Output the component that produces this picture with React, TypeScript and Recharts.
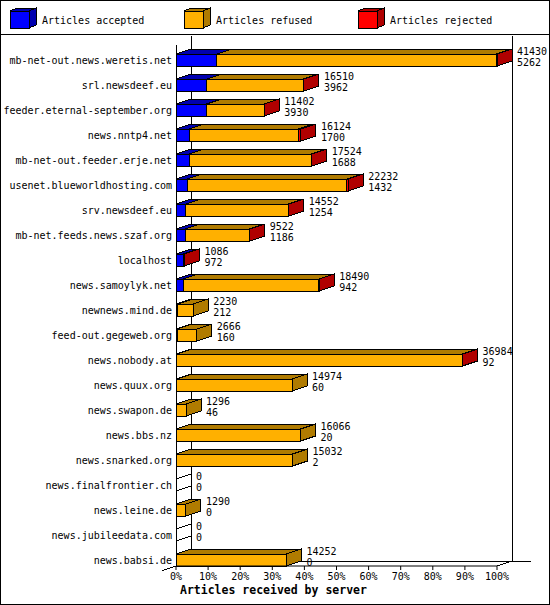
import { Bar, BarChart, CartesianGrid, Legend, XAxis, YAxis } from 'recharts';

const servers = [
  'mb-net-out.news.weretis.net',
  'srl.newsdeef.eu',
  'feeder.eternal-september.org',
  'news.nntp4.net',
  'mb-net-out.feeder.erje.net',
  'usenet.blueworldhosting.com',
  'srv.newsdeef.eu',
  'mb-net.feeds.news.szaf.org',
  'localhost',
  'news.samoylyk.net',
  'newnews.mind.de',
  'feed-out.gegeweb.org',
  'news.nobody.at',
  'news.quux.org',
  'news.swapon.de',
  'news.bbs.nz',
  'news.snarked.org',
  'news.finalfrontier.ch',
  'news.leine.de',
  'news.jubileedata.com',
  'news.babsi.de',
];

const accepted = [5262, 3962, 3930, 1700, 1688, 1432, 1254, 1186, 972, 942, 212, 160, 92, 60, 46, 20, 2, 0, 0, 0, 0];
const refused = [36068, 12508, 7432, 14074, 15806, 20600, 13258, 8306, 0, 17488, 2018, 2506, 36842, 14914, 1250, 16046, 15030, 0, 1290, 0, 14252];
const rejected = [100, 40, 40, 350, 30, 200, 40, 30, 114, 60, 0, 0, 50, 0, 0, 0, 0, 0, 0, 0, 0];

const seriesNames = ['Articles accepted', 'Articles refused', 'Articles rejected'];
const pctTicks = [0, 10, 20, 30, 40, 50, 60, 70, 80, 90, 100];

const totals = servers.map((_, i) => accepted[i] + refused[i] + rejected[i]);
const maxTotal = Math.max(...totals);

// bar length is relative to the busiest server
const data = servers.map((server, i) => ({
  server,
  accepted: (accepted[i] / maxTotal) * 100,
  refused: (refused[i] / maxTotal) * 100,
  rejected: (rejected[i] / maxTotal) * 100,
  total: totals[i],
  acceptedCount: accepted[i],
}));

const FONT = '"DejaVu Sans Mono", "Liberation Mono", monospace';
const DX = 15;
const DY = 5;

type Key = 'accepted' | 'refused' | 'rejected';
const KEYS: Key[] = ['accepted', 'refused', 'rejected'];
const FRONT: Record<Key, string> = { accepted: '#0000ff', refused: '#ffb000', rejected: '#ff0000' };
const SHADE: Record<Key, string> = { accepted: '#0000b0', refused: '#b07b00', rejected: '#b00000' };

const makeShape = (key: Key) => (props: any) => {
  const { x, y, width, height, payload } = props;
  const top = y + height / 2;
  const bottom = top + height;
  const right = x + width;
  const later = KEYS.slice(KEYS.indexOf(key) + 1);
  const isLast = later.every((k) => !payload[k]);
  const txt = { fontFamily: FONT, fontSize: 10, fill: '#000' };

  return (
    <g>
      {key === 'accepted' && (
        <g stroke="#000" shapeRendering="crispEdges">
          <line x1={x} y1={top} x2={x + DX} y2={top - DY} />
          <line x1={x} y1={bottom} x2={x + DX} y2={bottom - DY} />
        </g>
      )}
      {width > 0 && (
        <g stroke="#000" strokeWidth={1} shapeRendering="crispEdges">
          <polygon
            points={`${x},${top} ${x + DX},${top - DY} ${right + DX},${top - DY} ${right},${top}`}
            fill={SHADE[key]}
          />
          <rect x={x} y={top} width={width} height={height} fill={FRONT[key]} />
          {isLast && (
            <polygon
              points={`${right},${top} ${right + DX},${top - DY} ${right + DX},${bottom - DY} ${right},${bottom}`}
              fill={SHADE[key]}
            />
          )}
        </g>
      )}
      {key === 'rejected' && (
        <g>
          <text x={right + DX + 5} y={top + 0.5} {...txt}>
            {payload.total}
          </text>
          <text x={right + DX + 5} y={bottom} {...txt}>
            {payload.acceptedCount}
          </text>
        </g>
      )}
    </g>
  );
};

const ServerTick = (props: any) => {
  const { x, y, payload } = props;
  return (
    <text x={x} y={y + 10} textAnchor="end" fontFamily={FONT} fontSize={10} fill="#000">
      {payload.value}
    </text>
  );
};

const gridVertical = (props: any) => {
  const { x1, y1, y2, index } = props;
  if (index === 0) {
    return <line key={`v${index}`} x1={x1} y1={y1 + 4} x2={x1} y2={y2} stroke="#000" shapeRendering="crispEdges" />;
  }
  return <line key={`v${index}`} x1={x1} y1={y1 - DY} x2={x1} y2={y2 - DY} stroke="#000" shapeRendering="crispEdges" />;
};

const gridHorizontal = (props: any) => {
  const { x1, x2, y1, index } = props;
  return (
    <g key={`h${index}`} stroke="#000" shapeRendering="crispEdges">
      <line x1={x1 + DX} y1={y1 - DY} x2={x2 + DX + 19} y2={y1 - DY} />
      <line x1={x1 - 14} y1={y1 + (14 * DY) / DX} x2={x1 + DX} y2={y1 - DY} />
      <line x1={x2} y1={y1} x2={x2 + DX} y2={y1 - DY} />
    </g>
  );
};

const renderLegend = (props: any) => {
  const payload = props.payload || [];
  return (
    <svg width={550} height={35} style={{ display: 'block' }}>
      {payload.map((item: any, i: number) => {
        const key = item.dataKey as Key;
        const bx = 10 + i * 174;
        return (
          <g key={key}>
            <g stroke="#000" shapeRendering="crispEdges">
              <polygon points={`${bx},11 ${bx + 7},8 ${bx + 26},8 ${bx + 19},11`} fill={SHADE[key]} />
              <polygon points={`${bx + 19},11 ${bx + 26},8 ${bx + 26},25 ${bx + 19},28`} fill={SHADE[key]} />
              <rect x={bx} y={11} width={19} height={17} fill={FRONT[key]} />
            </g>
            <text x={bx + 32} y={24} fontFamily={FONT} fontSize={10} fill="#000">
              {item.value}
            </text>
          </g>
        );
      })}
      <line x1={0} y1={34.5} x2={550} y2={34.5} stroke="#000" />
    </svg>
  );
};

export default function App() {
  return (
    <div style={{ position: 'absolute', left: 0, top: 0, width: 550, height: 605, background: '#fff' }}>
      <BarChart
        width={550}
        height={605}
        data={data}
        layout="vertical"
        barSize={12}
        margin={{ top: 6, right: 53, bottom: 0, left: 0 }}
      >
        <CartesianGrid
          vertical={gridVertical}
          horizontal={gridHorizontal}
          verticalCoordinatesGenerator={({ offset }: any) => [
            offset.left,
            offset.left + DX,
            offset.left + offset.width + DX,
          ]}
          horizontalCoordinatesGenerator={({ offset }: any) => [offset.top + offset.height]}
        />
        <XAxis
          type="number"
          domain={[0, 100]}
          ticks={pctTicks}
          interval={0}
          height={39}
          tickSize={4}
          tickMargin={3}
          tickFormatter={(v: number) => `${v}%`}
          tick={{ fontFamily: FONT, fontSize: 10, fill: '#000' }}
          axisLine={{ stroke: '#000' }}
          tickLine={{ stroke: '#000' }}
          label={{
            content: ({ viewBox }: any) => (
              <text
                x={viewBox.x + 4}
                y={viewBox.y + 28}
                fontFamily={FONT}
                fontSize={11.5}
                fontWeight="bold"
                fill="#000"
              >
                Articles received by server
              </text>
            ),
          }}
        />
        <YAxis
          type="category"
          dataKey="server"
          width={176}
          interval={0}
          axisLine={false}
          tickLine={false}
          tickSize={0}
          tickMargin={4}
          tick={<ServerTick />}
        />
        <Legend
          verticalAlign="top"
          align="left"
          content={renderLegend}
          wrapperStyle={{ top: 0, left: 0, width: 550, height: 35 }}
        />
        {KEYS.map((key, i) => (
          <Bar
            key={key}
            dataKey={key}
            name={seriesNames[i]}
            stackId="a"
            fill={FRONT[key]}
            shape={makeShape(key)}
            isAnimationActive={false}
          />
        ))}
      </BarChart>
      <div
        style={{
          position: 'absolute',
          left: 0,
          top: 0,
          width: 550,
          height: 605,
          boxSizing: 'border-box',
          border: '1px solid #000',
          pointerEvents: 'none',
        }}
      />
    </div>
  );
}
